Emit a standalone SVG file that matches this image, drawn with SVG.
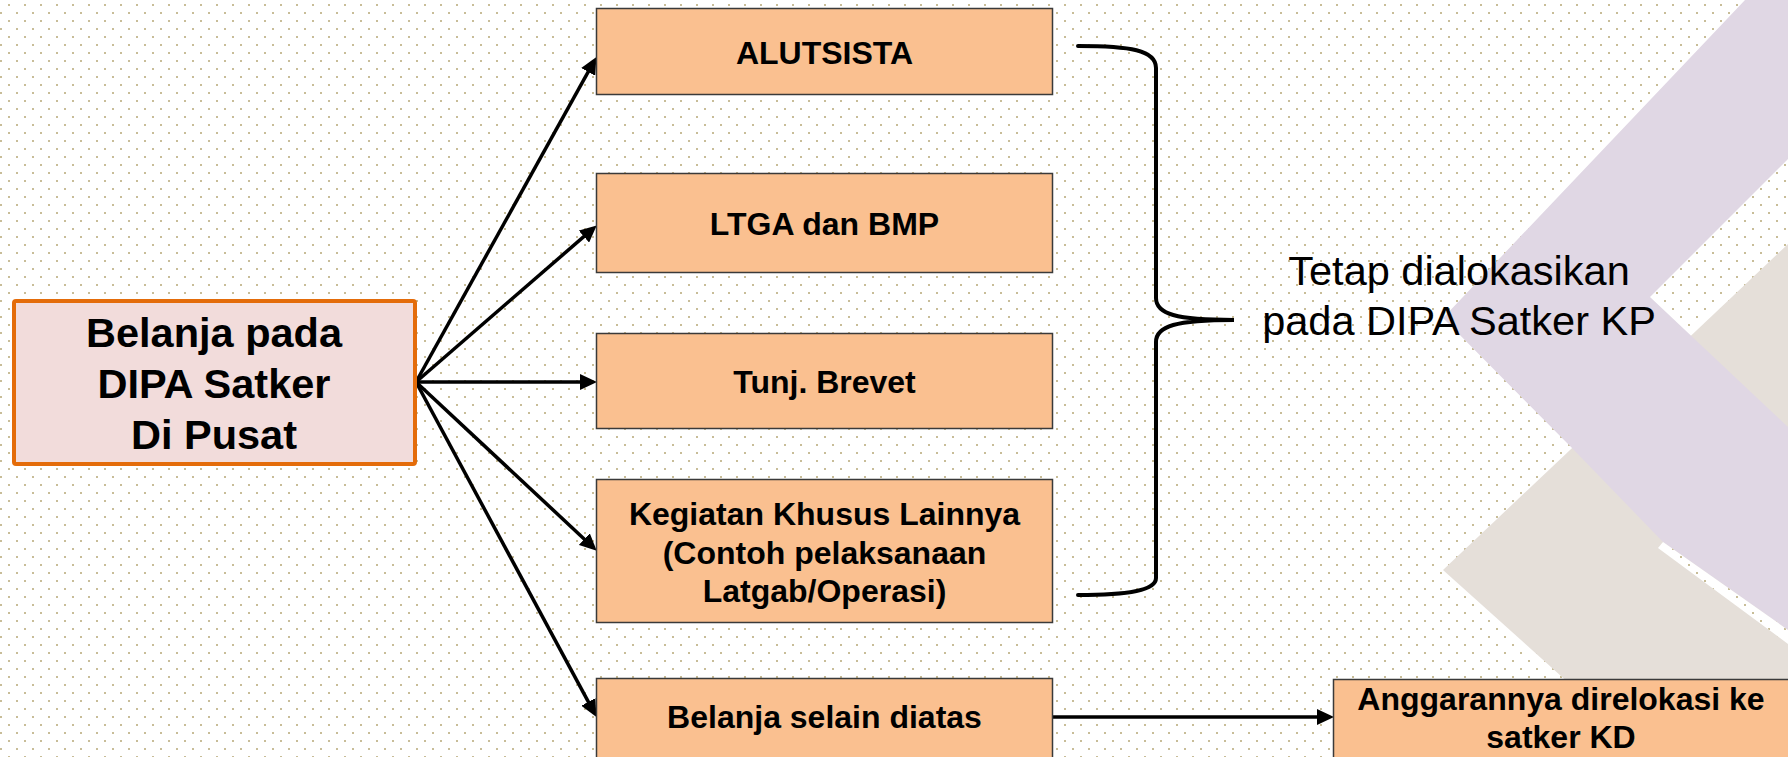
<svg xmlns="http://www.w3.org/2000/svg" width="1788" height="757" viewBox="0 0 1788 757">
<defs>
<pattern id="dots" patternUnits="userSpaceOnUse" width="16" height="16">
<rect x="8" y="4" width="2" height="2" fill="#c8bd98"/>
<rect x="0" y="12" width="2" height="2" fill="#c8bd98"/>
</pattern>
<marker id="arr" markerUnits="userSpaceOnUse" markerWidth="17" markerHeight="16" refX="6" refY="8" orient="auto">
<path d="M0,0 L17,8 L0,16 z" fill="#000"/>
</marker>
<style>
.box{fill:#FAC090;stroke:#3a3a3a;stroke-width:1.5}
.main{fill:#F2DCDB;stroke:#E46C0A;stroke-width:4}
.bt{font-family:"Liberation Sans",Arial,sans-serif;font-weight:bold;font-size:32px;fill:#000;text-anchor:middle}
.mt{font-family:"Liberation Sans",Arial,sans-serif;font-weight:bold;font-size:41.5px;fill:#000;text-anchor:middle}
.rt{font-family:"Liberation Sans",Arial,sans-serif;font-size:41.5px;fill:#000;text-anchor:middle}
.con{stroke:#000;stroke-width:3.5;fill:none}
.bg{fill:url(#dots)}
</style>
</defs>
<g id="background">
<rect x="0" y="0" width="1788" height="757" fill="#ffffff"/>
<rect x="0" y="0" width="1788" height="757" class="bg"/>
<polygon points="1443,570 1788,244 1788,757 1651,757" fill="#E5DFD9"/>
<polygon points="1745,0 1788,0 1788,159 1650,297 1788,427 1788,630 1663,542 1572,448 1443,318" fill="#E0D7E4"/>
<polygon points="1663,542 1788,630 1788,644 1658,548" fill="#ffffff"/>
<polygon points="1663,542 1788,630 1788,644 1658,548" class="bg"/>
</g>
<g id="connectors">
<line class="con" x1="416" y1="382" x2="591.1" y2="66.7" marker-end="url(#arr)"/>
<line class="con" x1="416" y1="382" x2="588.4" y2="232.6" marker-end="url(#arr)"/>
<line class="con" x1="416" y1="382" x2="586" y2="382" marker-end="url(#arr)"/>
<line class="con" x1="416" y1="382" x2="588.7" y2="543.2" marker-end="url(#arr)"/>
<line class="con" x1="416" y1="382" x2="591.2" y2="707.2" marker-end="url(#arr)"/>
<line class="con" x1="1053" y1="717" x2="1323" y2="717" marker-end="url(#arr)"/>
<path d="M1078,46 C1130,46 1156,50 1156,68 L1156,298 C1156,314 1176,320 1234,320 C1176,320 1156,326 1156,342 L1156,578 C1156,590 1130,595 1078,595" stroke="#000" stroke-width="4" fill="none" stroke-linecap="round"/>
</g>
<g id="node-main">
<rect class="main" x="14" y="301" width="401" height="163" rx="2"/>
<text class="mt" x="214" y="347">Belanja pada</text>
<text class="mt" x="214" y="398">DIPA Satker</text>
<text class="mt" x="214" y="449">Di Pusat</text>
</g>
<g id="node-alutsista">
<rect class="box" x="596.5" y="8.5" width="456" height="86"/>
<text class="bt" x="824.5" y="64">ALUTSISTA</text>
</g>
<g id="node-ltga">
<rect class="box" x="596.5" y="173.5" width="456" height="99"/>
<text class="bt" x="824.5" y="235">LTGA dan BMP</text>
</g>
<g id="node-tunj">
<rect class="box" x="596.5" y="333.5" width="456" height="95"/>
<text class="bt" x="824.5" y="393">Tunj. Brevet</text>
</g>
<g id="node-kegiatan">
<rect class="box" x="596.5" y="479.5" width="456" height="143"/>
<text class="bt" x="824.5" y="525">Kegiatan Khusus Lainnya</text>
<text class="bt" x="824.5" y="563.5">(Contoh pelaksanaan</text>
<text class="bt" x="824.5" y="602">Latgab/Operasi)</text>
</g>
<g id="node-selain">
<rect class="box" x="596.5" y="678.5" width="456" height="90"/>
<text class="bt" x="824.5" y="728">Belanja selain diatas</text>
</g>
<g id="node-relokasi">
<rect class="box" x="1333.5" y="679.5" width="458" height="90"/>
<text class="bt" x="1561" y="710">Anggarannya direlokasi ke</text>
<text class="bt" x="1561" y="748">satker KD</text>
</g>
<g id="label-tetap">
<text class="rt" x="1459" y="285">Tetap dialokasikan</text>
<text class="rt" x="1459" y="335">pada DIPA Satker KP</text>
</g>
</svg>
